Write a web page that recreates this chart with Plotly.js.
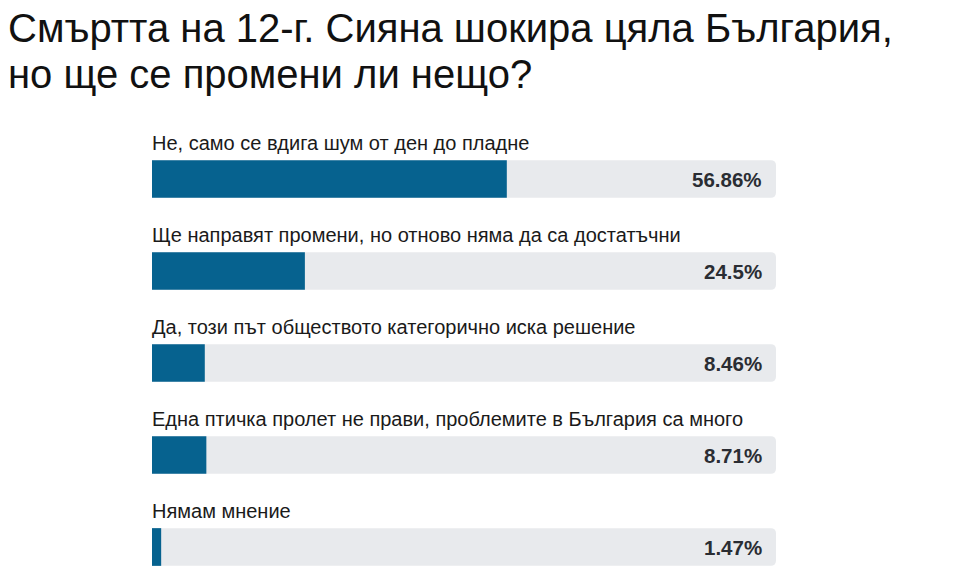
<!DOCTYPE html>
<html>
<head>
<meta charset="utf-8">
<script src="https://cdn.plot.ly/plotly-3.0.1.min.js"></script>
<style>html,body{margin:0;padding:0;background:#fff;}#chart{width:956px;height:585px;}</style>
</head>
<body>
<div id="chart"></div>
<script>
const titleLines = ["Смъртта на 12-г. Сияна шокира цяла България,", "но ще се промени ли нещо?"];
const answers = [
  "Не, само се вдига шум от ден до пладне",
  "Ще направят промени, но отново няма да са достатъчни",
  "Да, този път обществото категорично иска решение",
  "Една птичка пролет не прави, проблемите в България са много",
  "Нямам мнение"
];
const percents = [56.86, 24.5, 8.46, 8.71, 1.47];
const percentLabels = ["56.86%", "24.5%", "8.46%", "8.71%", "1.47%"];
const fullScale = [100, 100, 100, 100, 100];

const idx = answers.map((_, i) => i);

const traces = [
  {
    type: "bar", orientation: "h",
    x: fullScale, y: idx, width: 0.41,
    marker: {color: "#e8eaed", cornerradius: 5},
    hoverinfo: "skip", showlegend: false
  },
  {
    type: "bar", orientation: "h",
    x: percents, y: idx, width: 0.41,
    marker: {color: "#06628f", cornerradius: 5},
    hoverinfo: "skip", showlegend: false
  }
];

const annotations = [];
answers.forEach((a, i) => {
  annotations.push({
    x: 0, y: i - 0.39, xref: "x", yref: "y", xshift: -2,
    text: a, showarrow: false, xanchor: "left", yanchor: "middle",
    font: {family: "Liberation Sans, Arial, sans-serif", size: 20, color: "#1a1a1a"}
  });
  annotations.push({
    x: 100, y: i, xref: "x", yref: "y", xshift: -12,
    text: "<b>" + percentLabels[i] + "</b>", showarrow: false,
    xanchor: "right", yanchor: "middle",
    font: {family: "Liberation Sans, Arial, sans-serif", size: 20.5, color: "#2a2d33"}
  });
});

const titleText = titleLines.map(t => '<span style="font-size:40px">' + t + '</span>').join("<br>");

const layout = {
  width: 956, height: 585,
  paper_bgcolor: "#ffffff", plot_bgcolor: "#ffffff",
  margin: {l: 152, r: 180, t: 110, b: 0},
  barmode: "overlay",
  title: {
    text: titleText, x: 0, xref: "container", xanchor: "left",
    y: 0.928, yref: "container", yanchor: "middle", pad: {l: 8},
    font: {family: "Liberation Sans, Arial, sans-serif", size: 35, color: "#111"}
  },
  xaxis: {range: [0, 100], visible: false, fixedrange: true},
  yaxis: {range: [4.413, -0.75], visible: false, fixedrange: true},
  annotations: annotations
};

Plotly.newPlot("chart", traces, layout, {displayModeBar: false, staticPlot: true});
</script>
</body>
</html>
